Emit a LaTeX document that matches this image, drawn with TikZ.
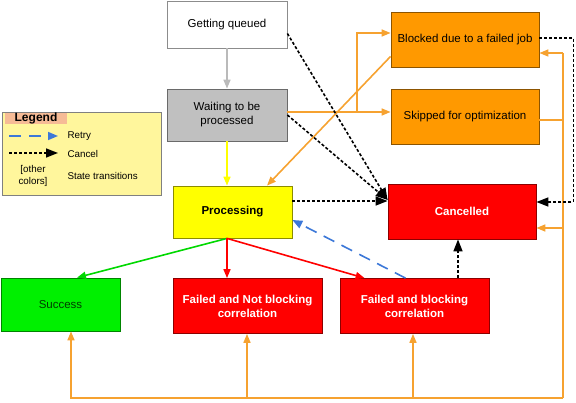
\documentclass[tikz,border=0pt]{standalone}
\usepackage{fontspec}
\setmainfont{Liberation Sans}
\usetikzlibrary{arrows.meta,calc,positioning}
\definecolor{boxorange}{RGB}{255,153,0}
\definecolor{lineorange}{RGB}{246,162,48}
\definecolor{boxgray}{RGB}{192,192,192}
\definecolor{boxgreen}{RGB}{0,240,0}
\definecolor{boxred}{RGB}{255,0,0}
\definecolor{boxyellow}{RGB}{255,255,0}
\definecolor{retryblue}{RGB}{60,120,216}
\definecolor{legendfill}{RGB}{255,246,156}
\definecolor{legendhead}{RGB}{246,187,150}

\begin{document}
\begin{tikzpicture}[x=1pt,y=-1pt,
    box/.style={draw=#1!55!black, fill=#1, line width=0.8pt, align=center,
                font=\fontsize{11.5}{14}\selectfont},
    hot/.style={text=white, font=\fontsize{11.5}{14}\selectfont\bfseries},
    flow/.style={line width=1.6pt, -{Triangle[length=9pt,width=7pt]}},
    cancelarrow/.style={line width=1.6pt, dash pattern=on 3pt off 2pt,
                -{Triangle[length=12pt,width=9pt]}},
    retryarrow/.style={retryblue, line width=1.6pt, dash pattern=on 12pt off 8pt,
                -{Triangle[length=10pt,width=8pt]}}]
    \useasboundingbox (0,0) rectangle (576,403);

    % States
    \node[box=white, minimum width=120, minimum height=47] (queued) at (227,24.5) {Getting queued};
    \node[box=boxgray, minimum width=120, minimum height=52] (waiting) at (227,115) {Waiting to be\\processed};
    \node[box=boxorange, minimum width=148, minimum height=55] (blocked) at (465,39.5) {Blocked due to a failed job};
    \node[box=boxorange, minimum width=148, minimum height=55] (skipped) at (465,116.5) {Skipped for optimization};
    \node[box=boxred, hot, minimum width=148, minimum height=55] (cancelled) at (462,211.5) {Cancelled};
    \node[box=boxyellow, minimum width=119, minimum height=52, font=\fontsize{11.5}{14}\selectfont\bfseries] (processing) at (232.5,212) {Processing};
    \node[box=boxgreen, text=boxgreen!25!black, minimum width=119, minimum height=53] (success) at (60.5,304.5) {Success};
    \node[box=boxred, hot, minimum width=149, minimum height=55] (failnb) at (247.5,306) {Failed and Not blocking\\correlation};
    \node[box=boxred, hot, minimum width=149, minimum height=55] (failb) at (414.5,306) {Failed and blocking\\correlation};

    % Legend
    \node[draw=black!50, fill=legendfill, line width=0.8pt, minimum width=159, minimum height=83] (legend) at (82,153.5) {};
    \node[fill=legendhead, inner sep=0, minimum width=62, minimum height=11,
          font=\fontsize{12}{12}\selectfont\bfseries] (legendtitle) at (36,118.5) {Legend};
    \node[anchor=west, font=\fontsize{9.8}{11}\selectfont] (retry) at (64,136) {Retry};
    \node[anchor=west, font=\fontsize{9.8}{11}\selectfont] (cancel) at (64,154) {Cancel};
    \node[anchor=west, font=\fontsize{9.8}{11}\selectfont] (transitions) at (64,176) {State transitions};
    \node[align=center, font=\fontsize{9.8}{11.5}\selectfont] (others) at (33,176) {[other\\colors]};
    \coordinate (retrystart) at (9,136);
    \coordinate (cancelstart) at (9,153);
    \draw[retryarrow] (retrystart) -- ($(retry.west)+(-6,0)$);
    \draw[cancelarrow] (cancelstart) -- ($(cancel.west)+(-6,-1)$);

    % Main flow
    \draw[flow, black!27] (queued) -- (waiting);
    \draw[flow, boxyellow] (waiting.south) -- (waiting.south |- processing.north);
    \coordinate (fork) at (waiting.south |- processing.south);
    \draw[flow, boxgreen!90!black] (fork) -- ($(success.north)+(16.5,0)$);
    \draw[flow, boxred] (fork) -- (fork |- failnb.north);
    \draw[flow, boxred] (fork) -- ($(failb.north west)+(25,0)$);
    \draw[retryarrow] ($(failb.north)+(-9,0)$) -- ($(processing.east)+(0,8)$);

    % Orange transitions
    \coordinate (split) at (357,112);
    \coordinate (railtop) at (563,53);
    \coordinate (railbot) at (563,398);
    \coordinate (skipout) at ($(skipped.east)+(0,3.5)$);
    \coordinate (failnbin) at ($(failnb.south)+(-0.5,0)$);
    \coordinate (failbin) at ($(failb.south)+(-1.5,0)$);
    \coordinate (cancelin) at ($(cancelled.east)+(0,16.5)$);
    \draw[flow, lineorange] (waiting.east |- split) -- (skipped.west |- split);
    \draw[flow, lineorange] (split) |- ($(blocked.west)+(0,-6.5)$);
    \draw[flow, lineorange] ($(blocked.south west)+(0,-11)$) -- ($(processing.north)+(34.5,0)$);
    \draw[line width=1.6pt, lineorange] (skipout) -- (skipout -| railtop);
    \draw[flow, lineorange] (railtop) -- (blocked.east |- railtop);
    \draw[line width=1.6pt, lineorange] (railtop) -- (railbot);
    \draw[flow, lineorange] (railbot) -| ($(success.south)+(10.5,0)$);
    \draw[flow, lineorange] (failnbin |- railbot) -- (failnbin);
    \draw[flow, lineorange] (failbin |- railbot) -- (failbin);
    \draw[flow, lineorange] (cancelin -| railtop) -- (cancelin);

    % Cancel transitions
    \coordinate (failbout) at ($(failb.north)+(43.5,0)$);
    \draw[cancelarrow] ($(queued.east)+(0,9)$) -- ($(cancelled.west)+(0,-11.5)$);
    \draw[cancelarrow] (waiting.east) -- ($(cancelled.west)+(0,-11.5)$);
    \draw[cancelarrow] ($(processing.east)+(0,-11)$) -- ($(cancelled.west)+(0,-10.5)$);
    \draw[cancelarrow] (failbout) -- (failbout |- cancelled.south);
    \draw[cancelarrow] ($(blocked.east)+(0,-1.5)$) -- ++(34,0) |- ($(cancelled.east)+(0,-9.5)$);
\end{tikzpicture}
\end{document}
